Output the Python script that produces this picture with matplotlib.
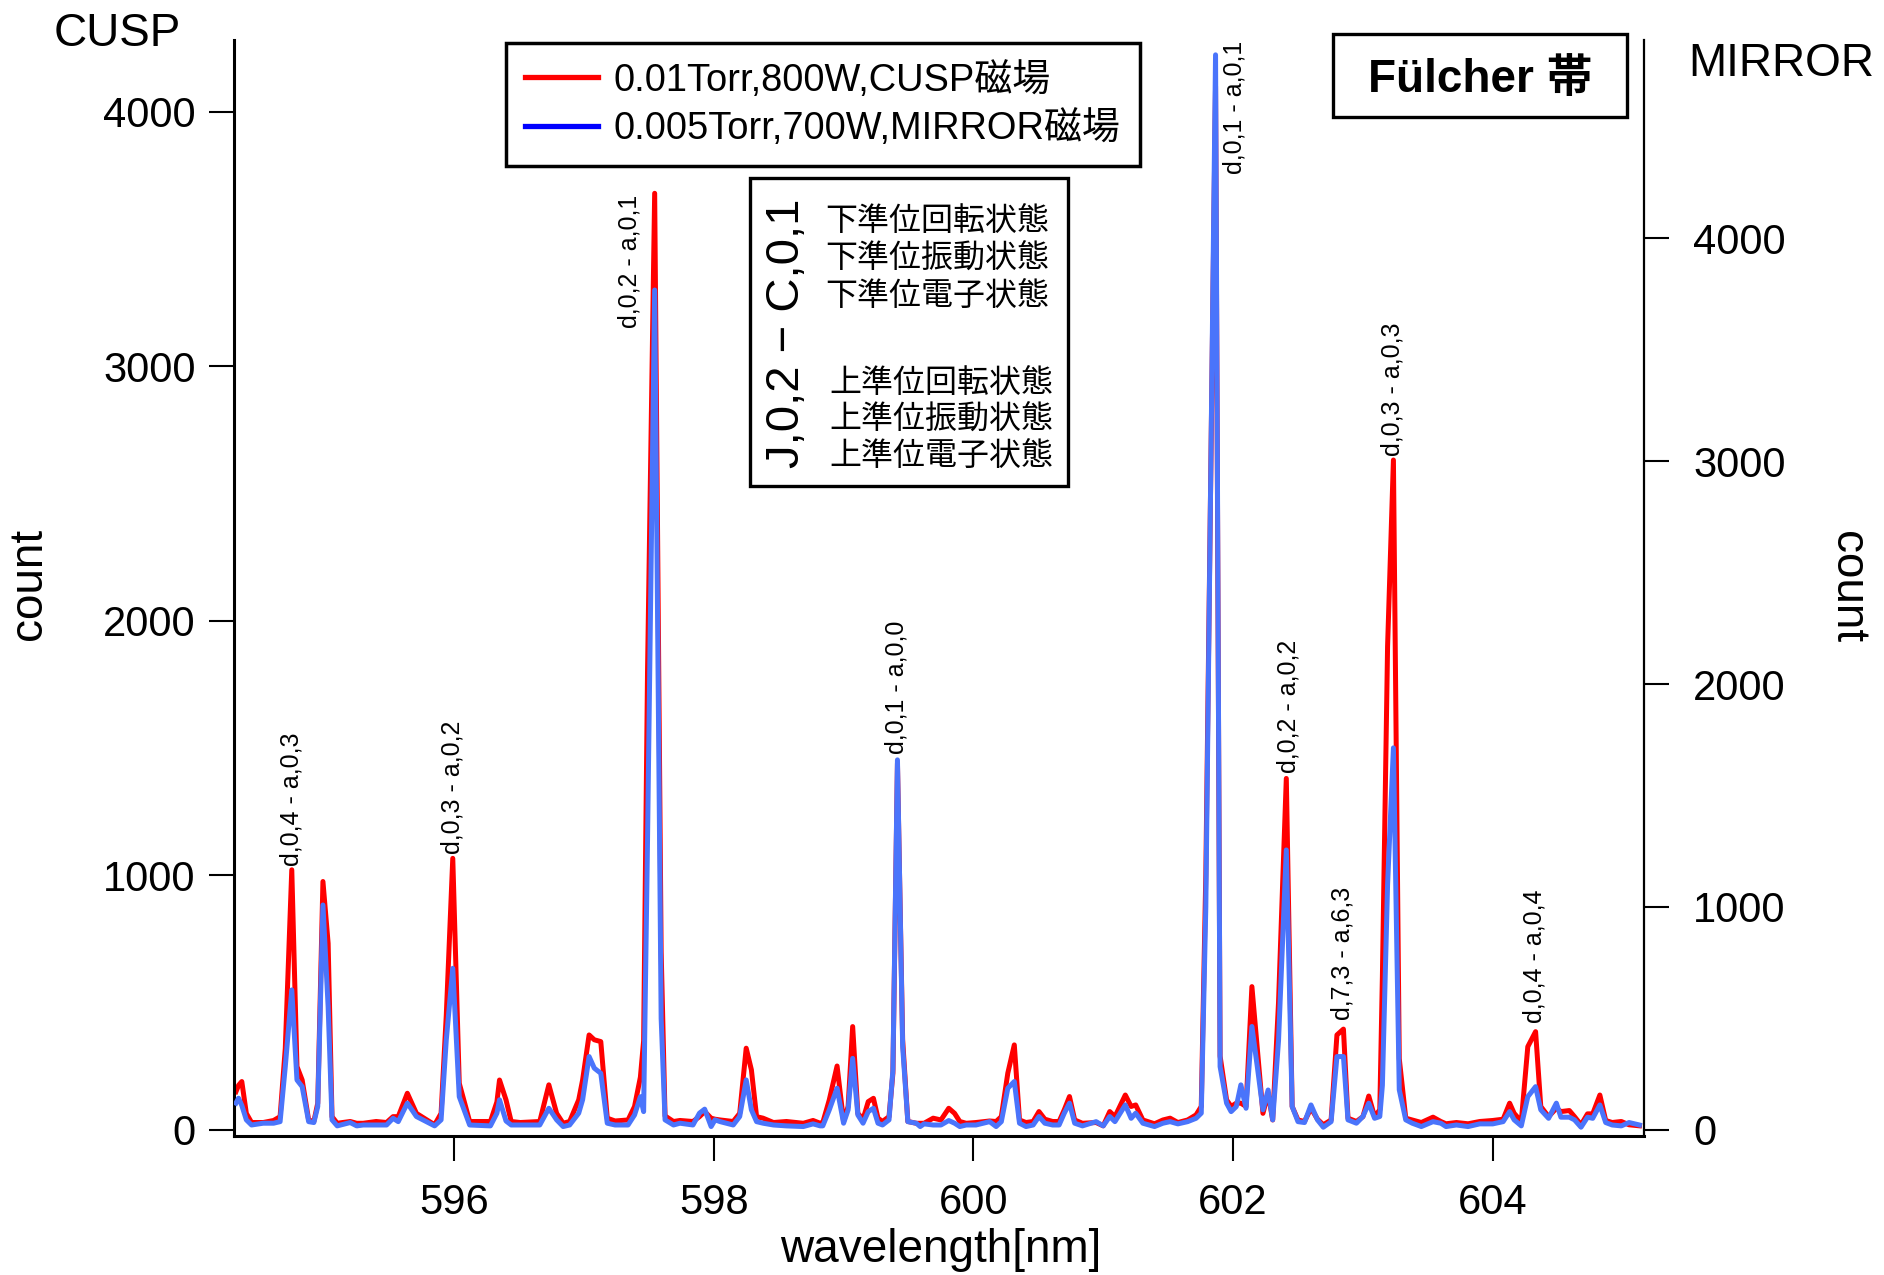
import matplotlib
matplotlib.use("Agg")
import matplotlib.pyplot as plt
from matplotlib.lines import Line2D
from matplotlib.patches import Rectangle

plt.rcParams["font.family"] = ["Liberation Sans", "Noto Sans CJK JP", "DejaVu Sans"]

# Spectrum vertices: wavelength [nm], CUSP counts (left axis), MIRROR counts (right axis)
wavelength = [
    594.32, 594.34, 594.365, 594.40, 594.44, 594.53, 594.61, 594.66, 594.70, 594.75,
    594.79, 594.83, 594.88, 594.92, 594.95, 594.99, 595.03, 595.06, 595.10, 595.20,
    595.25, 595.30, 595.40, 595.48, 595.53, 595.57, 595.64, 595.71, 595.81, 595.85,
    595.90, 595.94, 595.99, 596.04, 596.12, 596.28, 596.33, 596.35, 596.40, 596.44,
    596.51, 596.66, 596.73, 596.79, 596.84, 596.89, 596.96, 596.99, 597.04, 597.08,
    597.13, 597.18, 597.24, 597.34, 597.39, 597.435, 597.46, 597.49, 597.545, 597.595,
    597.625, 597.69, 597.74, 597.84, 597.89, 597.93, 597.98, 598.01, 598.05, 598.15,
    598.20, 598.25, 598.29, 598.33, 598.38, 598.46, 598.56, 598.69, 598.765, 598.82,
    598.84, 598.89, 598.95, 599.00, 599.035, 599.07, 599.11, 599.15, 599.19, 599.23,
    599.265, 599.30, 599.35, 599.38, 599.415, 599.455, 599.495, 599.56, 599.59, 599.62,
    599.69, 599.75, 599.81, 599.855, 599.895, 599.945, 600.02, 600.125, 600.175, 600.215,
    600.265, 600.315, 600.355, 600.405, 600.46, 600.505, 600.55, 600.61, 600.66, 600.70,
    600.74, 600.78, 600.84, 600.945, 601.00, 601.05, 601.09, 601.17, 601.215, 601.25,
    601.305, 601.395, 601.46, 601.515, 601.575, 601.65, 601.715, 601.755, 601.79, 601.865,
    601.90, 601.95, 601.985, 602.025, 602.06, 602.10, 602.145, 602.19, 602.23, 602.27,
    602.305, 602.35, 602.41, 602.455, 602.50, 602.55, 602.60, 602.65, 602.695, 602.755,
    602.80, 602.85, 602.885, 602.95, 603.00, 603.045, 603.09, 603.13, 603.15, 603.19,
    603.235, 603.28, 603.33, 603.38, 603.45, 603.54, 603.60, 603.64, 603.72, 603.81,
    603.90, 604.00, 604.08, 604.13, 604.165, 604.22, 604.27, 604.33, 604.37, 604.43,
    604.49, 604.525, 604.59, 604.63, 604.68, 604.73, 604.77, 604.825, 604.87, 604.92,
    604.99, 605.05, 605.13,
]

cusp_count = [
    150, 175, 190, 65, 29, 29, 37, 52, 320, 1022,
    249, 196, 39, 33, 105, 976, 733, 52, 26, 33,
    26, 26, 33, 29, 52, 52, 144, 65, 33, 20,
    65, 450, 1067, 183, 33, 33, 110, 196, 118, 33,
    29, 33, 177, 65, 26, 33, 118, 196, 373, 354,
    347, 46, 35, 39, 92, 207, 350, 1800, 3680, 700,
    55, 33, 37, 33, 52, 72, 46, 42, 39, 33,
    65, 321, 236, 52, 46, 29, 33, 26, 37, 26,
    29, 118, 251, 33, 92, 406, 65, 42, 111, 124,
    46, 33, 52, 223, 1440, 354, 33, 26, 26, 26,
    46, 39, 85, 65, 33, 26, 29, 35, 33, 52,
    223, 334, 39, 29, 33, 72, 42, 33, 33, 79,
    131, 39, 26, 29, 16, 72, 52, 137, 92, 98,
    39, 24, 39, 46, 29, 39, 59, 92, 1000, 4100,
    290, 118, 92, 105, 105, 92, 563, 301, 65, 144,
    39, 500, 1381, 92, 39, 33, 85, 42, 20, 39,
    373, 396, 46, 33, 52, 133, 52, 79, 600, 1900,
    2632, 280, 46, 39, 29, 50, 33, 24, 29, 24,
    33, 37, 42, 105, 65, 33, 327, 386, 92, 52,
    85, 72, 76, 52, 20, 63, 63, 137, 37, 29,
    33, 20, 16,
]

mirror_count = [
    120, 142, 110, 45, 22, 30, 30, 37, 284, 628,
    224, 194, 37, 33, 105, 1009, 553, 45, 18, 33,
    18, 22, 22, 22, 52, 37, 120, 60, 30, 18,
    45, 404, 725, 149, 22, 18, 75, 135, 40, 22,
    22, 22, 97, 45, 15, 22, 75, 135, 329, 277,
    254, 30, 22, 22, 67, 149, 82, 1300, 3768, 500,
    45, 22, 30, 22, 75, 93, 15, 45, 37, 22,
    60, 224, 90, 37, 30, 22, 18, 15, 27, 18,
    18, 90, 187, 30, 90, 321, 67, 30, 82, 97,
    30, 22, 45, 269, 1660, 374, 37, 30, 15, 27,
    22, 22, 42, 30, 15, 22, 22, 37, 15, 37,
    187, 217, 30, 15, 22, 60, 30, 22, 22, 75,
    120, 30, 18, 37, 18, 60, 37, 112, 52, 75,
    30, 15, 30, 37, 27, 37, 52, 75, 1000, 4823,
    284, 120, 82, 105, 202, 97, 464, 269, 90, 179,
    45, 400, 1256, 105, 37, 33, 112, 45, 12, 37,
    329, 329, 45, 30, 60, 120, 52, 60, 200, 1100,
    1714, 180, 45, 30, 15, 37, 30, 15, 22, 15,
    27, 27, 37, 82, 45, 18, 149, 194, 90, 52,
    120, 57, 57, 45, 12, 57, 52, 112, 33, 22,
    18, 33, 22,
]

x_ticks = [596, 598, 600, 602, 604]
cusp_ticks = [0, 1000, 2000, 3000, 4000]
mirror_ticks = [0, 1000, 2000, 3000, 4000]

series_labels = ["0.01Torr,800W,CUSP磁場", "0.005Torr,700W,MIRROR磁場"]

# Band assignments written next to the peaks (left-axis units for the text base)
peak_names = [
    "d,0,4 - a,0,3", "d,0,3 - a,0,2", "d,0,2 - a,0,1", "d,0,1 - a,0,0",
    "d,0,1 - a,0,1", "d,0,2 - a,0,2", "d,7,3 - a,6,3", "d,0,3 - a,0,3",
    "d,0,4 - a,0,4",
]
peak_name_x = [594.745, 595.99, 597.35, 599.41, 602.01, 602.43, 602.845, 603.23, 604.32]
peak_name_y = [1037, 1084, 3151, 1475, 3756, 1404, 432, 2648, 420]

lower_states = ["下準位回転状態", "下準位振動状態", "下準位電子状態"]
upper_states = ["上準位回転状態", "上準位振動状態", "上準位電子状態"]

W, H = 1884, 1275
fig = plt.figure(figsize=(W / 100, H / 100), dpi=100)


def fx(px):
    return px / W


def fy(py):
    return 1 - py / H


ax = fig.add_axes([fx(234), fy(1136), (1644 - 234) / W, (1136 - 39.6) / H])
ax2 = ax.twinx()

red = "#ff0000"
blue = "#4a74fb"
ax.plot(wavelength, cusp_count, color=red, lw=3.6)
ax2.plot(wavelength, mirror_count, color=blue, lw=3.6)

ax.set_xlim(594.305, 605.165)
ax.set_ylim(-24, 4284)
ax2.set_ylim(-27.4, 4891.5)

ax.set_xticks(x_ticks)
ax.set_xticklabels([str(t) for t in x_ticks])
ax.set_yticks(cusp_ticks)
ax.set_yticklabels([str(t) for t in cusp_ticks])
ax2.set_yticks(mirror_ticks)
ax2.set_yticklabels([str(t) for t in mirror_ticks])

for a in (ax, ax2):
    a.spines["top"].set_visible(False)
ax.spines["right"].set_visible(False)
ax2.spines["left"].set_visible(False)
ax2.spines["bottom"].set_visible(False)
ax.spines["left"].set_linewidth(2.2)
ax.spines["bottom"].set_linewidth(2.2)
ax2.spines["right"].set_linewidth(1.6)

ax.tick_params(axis="y", direction="out", length=18, width=1.5, labelsize=30, pad=9.5)
ax.tick_params(axis="x", direction="out", length=18, width=1.5, labelsize=30, pad=16)
ax2.tick_params(axis="y", direction="out", length=18, width=1.5, labelsize=30, pad=17.5)

for name, x, y in zip(peak_names, peak_name_x, peak_name_y):
    ax.text(x, y, name, rotation=90, ha="center", va="bottom", fontsize=18)

# Axis titles
fig.text(fx(54), fy(45.5), "CUSP", fontsize=33, ha="left", va="baseline")
fig.text(fx(1688), fy(76.5), "MIRROR", fontsize=33, ha="left", va="baseline")
fig.text(fx(29), fy(584), "count", fontsize=33, rotation=90, ha="center", va="center")
fig.text(fx(1847), fy(587), "count", fontsize=33, rotation=270, ha="center", va="center")
fig.text(fx(941), fy(1250), "wavelength[nm]", fontsize=33, ha="center", va="center")

# Legend
handles = [Line2D([], [], color="#ff0000", lw=3.8), Line2D([], [], color="#0000ff", lw=3.8)]
leg = ax.legend(handles, series_labels, loc="upper left",
                bbox_to_anchor=(fx(505.8), fy(42.7)), bbox_transform=fig.transFigure,
                borderaxespad=0, fontsize=27.4, frameon=True, fancybox=False,
                framealpha=1, edgecolor="black", borderpad=0.5, handlelength=1.92,
                handletextpad=0.42, labelspacing=0.3)
leg.get_frame().set_linewidth(2.5)

# Band name box
fig.add_artist(Rectangle((fx(1333), fy(116.5)), (1627 - 1333) / W, (116.5 - 34) / H,
                         transform=fig.transFigure, fill=False, lw=2.4, ec="black"))
fig.text(fx(1480), fy(91.7), "Fülcher 帯", fontsize=33, fontweight="bold",
         ha="center", va="baseline")

# Notation box
fig.add_artist(Rectangle((fx(750), fy(485.5)), (1068 - 750) / W, (485.5 - 178.3) / H,
                         transform=fig.transFigure, fill=False, lw=2.4, ec="black"))
fig.text(fx(786.7), fy(333.3), "J,0,2 − C,0,1", fontsize=34, rotation=90,
         ha="center", va="center")
for s, y in zip(lower_states, [220.8, 258.3, 296.7]):
    fig.text(fx(825), fy(y), s, fontsize=23, ha="left", va="center",
             family=["Noto Sans CJK JP"])
for s, y in zip(upper_states, [383.3, 420.0, 456.7]):
    fig.text(fx(829), fy(y), s, fontsize=23, ha="left", va="center",
             family=["Noto Sans CJK JP"])

fig.savefig("out.png", dpi=100)
